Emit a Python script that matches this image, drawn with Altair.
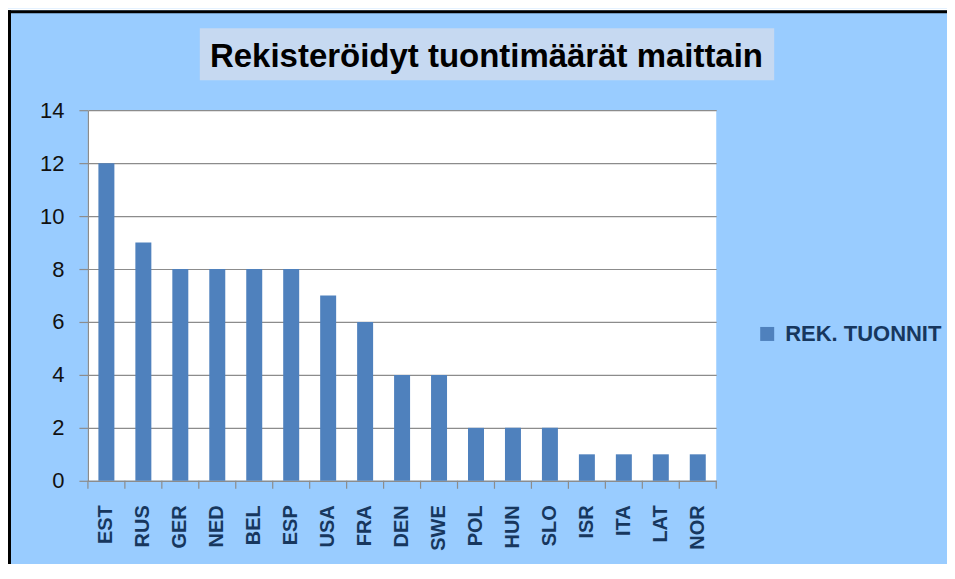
import altair as alt
import pandas as pd

COUNTRIES = ["EST", "RUS", "GER", "NED", "BEL", "ESP", "USA", "FRA", "DEN",
             "SWE", "POL", "HUN", "SLO", "ISR", "ITA", "LAT", "NOR"]
VALUES = [12, 9, 8, 8, 8, 8, 7, 6, 4, 4, 2, 2, 2, 1, 1, 1, 1]
SERIES = "REK. TUONNIT"
TITLE = "Rekisteröidyt tuontimäärät maittain"
Y_TICKS = [0, 2, 4, 6, 8, 10, 12, 14]

W, H = 629, 371
FONT = "Liberation Sans, Arial, sans-serif"
NAVY = "#17375E"
GRID = "#8C8C8C"
BAR = "#4F81BD"

df = pd.DataFrame({"maa": COUNTRIES, "arvo": VALUES, "sarja": [SERIES] * len(COUNTRIES)})

xscale = alt.Scale(paddingInner=0, paddingOuter=0)

bars = alt.Chart(df).mark_bar(size=16).encode(
    x=alt.X("maa:N", sort=COUNTRIES, title=None, scale=xscale,
            axis=alt.Axis(labelAngle=-90, ticks=False, labelPadding=24,
                          labelFont=FONT, labelFontSize=20, labelFontWeight="bold",
                          labelColor=NAVY, domainColor=GRID, domainWidth=1.2)),
    y=alt.Y("arvo:Q", title=None, scale=alt.Scale(domain=[0, 14], nice=False),
            axis=alt.Axis(values=Y_TICKS, grid=True, gridColor=GRID, gridWidth=1.2,
                          tickSize=9, tickColor=GRID, tickWidth=1.2,
                          domainColor=GRID, domainWidth=1.2, labelPadding=15,
                          labelFont=FONT, labelFontSize=22, labelColor="#111111")),
    color=alt.Color("sarja:N", scale=alt.Scale(range=[BAR]),
                    legend=alt.Legend(title=None, orient="none", legendX=669, legendY=213,
                                      symbolType="square", symbolSize=196,
                                      symbolStrokeWidth=0, labelOffset=7, padding=0,
                                      labelFont=FONT, labelFontSize=22,
                                      labelFontWeight="bold", labelColor=NAVY)),
)

# category boundary ticks on the x axis
ticks = alt.Chart(df).mark_rule(color=GRID, strokeWidth=1.2).encode(
    x=alt.X("maa:N", sort=COUNTRIES, bandPosition=0, scale=xscale),
    y=alt.value(H), y2=alt.value(H + 8),
)
end_tick = alt.Chart(alt.Data(values=[{}])).mark_rule(color=GRID, strokeWidth=1.2).encode(
    x=alt.value(W), y=alt.value(H), y2=alt.value(H + 8),
)

title_box = alt.Chart(alt.Data(values=[{}])).mark_rect(color="#C6D9F1").encode(
    x=alt.value(112), x2=alt.value(687), y=alt.value(-82), y2=alt.value(-30),
)
title_text = alt.Chart(alt.Data(values=[{"t": TITLE}])).mark_text(
    font=FONT, fontSize=33, fontWeight="bold", color="#000000",
    align="center", baseline="alphabetic",
).encode(text="t:N", x=alt.value(399), y=alt.value(-43))

white_strip = alt.Chart(alt.Data(values=[{}])).mark_rule(color="white", strokeWidth=2).encode(
    x=alt.value(-90), x2=alt.value(W + 300), y=alt.value(-101),
)
border_top = alt.Chart(alt.Data(values=[{}])).mark_rule(color="black", strokeWidth=3).encode(
    x=alt.value(-80), x2=alt.value(W + 300), y=alt.value(-98.5),
)
border_left = alt.Chart(alt.Data(values=[{}])).mark_rule(color="black", strokeWidth=3).encode(
    x=alt.value(-78.5), y=alt.value(-100), y2=alt.value(H + 200),
)

chart = alt.layer(
    title_box, title_text, bars, ticks, end_tick, white_strip, border_top, border_left
).properties(
    width=W, height=H,
    autosize=alt.AutoSizeParams(type="none"),
    padding={"left": 80, "top": 102, "right": 231, "bottom": 83},
    background="#99CCFF",
).configure_view(fill="white", strokeWidth=0)

chart.save("out.html", embed_options={"renderer": "svg", "actions": False})
